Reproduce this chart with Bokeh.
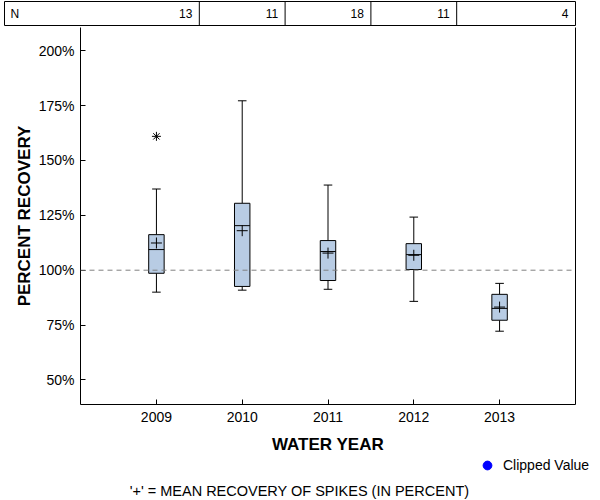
from bokeh.plotting import figure
from bokeh.layouts import column, row
from bokeh.models import (FixedTicker, Span, LinearAxis, Label, Legend, LegendItem,
                          PrintfTickFormatter, Range1d)
from bokeh.embed import file_html
from bokeh.resources import INLINE
from bokeh.core.properties import value

# ---------------- data ----------------
years = [2009, 2010, 2011, 2012, 2013]
year_labels = ["2009", "2010", "2011", "2012", "2013"]
n_counts = [13, 11, 18, 11, 4]
whisker_low = [90.0, 90.9, 91.3, 85.8, 72.2]
q1 = [98.6, 92.6, 95.3, 100.3, 77.2]
median = [109.4, 120.3, 108.5, 107.1, 82.6]
q3 = [116.2, 130.5, 113.5, 112.1, 89.0]
whisker_high = [137.0, 177.2, 138.8, 124.2, 94.0]
means = [112.4, 118.0, 107.8, 106.8, 83.2]
outlier_years = [2009]
outlier_values = [161.0]
clipped_years = []     # no clipped values in this chart
clipped_values = []
y_ticks = [50, 75, 100, 125, 150, 175, 200]
reference_pct = 100

# ---------------- layout / style constants ----------------
FONT = "Liberation Sans"
X0, X1 = 2008.115, 2013.885
Y0, Y1 = 38.8, 210.6
BOX_W = 0.18
CAP_W = 0.10
FRAME_L, FRAME_R = 80, 25
BOX_FILL = "#B8CCE4"

# ---------------- main plot ----------------
p = figure(width=600, height=430, x_range=Range1d(X0, X1), y_range=Range1d(Y0, Y1),
           output_backend="svg", toolbar_location=None,
           min_border_left=FRAME_L, min_border_right=FRAME_R,
           min_border_top=1, min_border_bottom=50)
p.xgrid.visible = False
p.ygrid.visible = False
p.outline_line_color = None
p.background_fill_color = "white"
p.border_fill_color = "white"

p.add_layout(Span(location=reference_pct, dimension="width", line_color="#808080",
                  line_width=1, line_dash="5 4"))

lo_edge = [x - BOX_W / 2 for x in years]
hi_edge = [x + BOX_W / 2 for x in years]
cap_l = [x - CAP_W / 2 for x in years]
cap_r = [x + CAP_W / 2 for x in years]

p.segment(x0=years, y0=q3, x1=years, y1=whisker_high, line_color="black", line_width=1)
p.segment(x0=years, y0=whisker_low, x1=years, y1=q1, line_color="black", line_width=1)
p.segment(x0=cap_l, y0=whisker_high, x1=cap_r, y1=whisker_high, line_color="black", line_width=1)
p.segment(x0=cap_l, y0=whisker_low, x1=cap_r, y1=whisker_low, line_color="black", line_width=1)
p.vbar(x=years, width=BOX_W, bottom=q1, top=q3, fill_color=BOX_FILL,
       line_color="black", line_width=1)
p.segment(x0=lo_edge, y0=median, x1=hi_edge, y1=median, line_color="black", line_width=1)
p.scatter(x=years, y=means, marker="cross", size=11, line_color="black", line_width=1)
p.scatter(x=outlier_years, y=outlier_values, marker="asterisk", size=9,
          line_color="black", line_width=1)

ya = p.yaxis[0]
ya.ticker = FixedTicker(ticks=y_ticks)
ya.formatter = PrintfTickFormatter(format="%d%%")
ya.major_tick_in = 5
ya.major_tick_out = 0
ya.minor_tick_in = 0
ya.minor_tick_out = 0
ya.major_label_standoff = 6
ya.major_label_text_font = FONT
ya.major_label_text_font_size = "14px"
ya.major_label_text_color = "black"
ya.axis_label = "PERCENT RECOVERY"
ya.axis_label_text_font = FONT
ya.axis_label_text_font_size = "17px"
ya.axis_label_text_font_style = "bold"
ya.axis_label_text_color = "black"
ya.axis_label_standoff = 2
ya.axis_line_color = "black"

xa = p.xaxis[0]
xa.ticker = FixedTicker(ticks=years)
xa.major_label_overrides = {y: lab for y, lab in zip(years, year_labels)}
xa.major_tick_in = 5
xa.major_tick_out = 0
xa.minor_tick_in = 0
xa.minor_tick_out = 0
xa.major_label_standoff = 7
xa.major_label_text_font = FONT
xa.major_label_text_font_size = "14px"
xa.major_label_text_color = "black"
xa.axis_label = "WATER YEAR"
xa.axis_label_text_font = FONT
xa.axis_label_text_font_size = "17px"
xa.axis_label_text_font_style = "bold"
xa.axis_label_text_color = "black"
xa.axis_label_standoff = 10
xa.axis_line_color = "black"

ra = LinearAxis(ticker=FixedTicker(ticks=[]), major_tick_in=0, major_tick_out=0,
                minor_tick_in=0, minor_tick_out=0, axis_line_color="black")
p.add_layout(ra, "right")

# ---------------- N table above ----------------
px_per_unit = (600 - FRAME_L - FRAME_R) / (X1 - X0)
T0 = X0 - (FRAME_L - 4) / px_per_unit
top = figure(width=600, height=26, x_range=Range1d(T0, X1), y_range=Range1d(0, 1),
             output_backend="svg", toolbar_location=None,
             x_axis_location=None, y_axis_location=None,
             min_border_left=4, min_border_right=FRAME_R, min_border_top=1, min_border_bottom=1)
top.xgrid.visible = False
top.ygrid.visible = False
top.outline_line_color = "black"
top.outline_line_width = 1
divs = [y + 0.5 for y in years[:-1]]
top.segment(x0=divs, y0=[0] * len(divs), x1=divs, y1=[1] * len(divs), line_color="black", line_width=1)
cell_right = divs + [X1]
top.text(x=cell_right, y=[0.5] * len(years), text=[str(n) for n in n_counts],
         text_align="right", text_baseline="middle", x_offset=-7,
         text_font=value(FONT), text_font_size="12px", text_color="black")
top.text(x=[T0], y=[0.5], text=["N"], text_align="left", text_baseline="middle", x_offset=6,
         text_font=value(FONT), text_font_size="12px", text_color="black")

# ---------------- bottom legend + footnote ----------------
bot = figure(width=600, height=44, x_range=Range1d(0, 600), y_range=Range1d(0, 44),
             output_backend="svg", toolbar_location=None,
             x_axis_location=None, y_axis_location=None,
             min_border_left=0, min_border_right=0, min_border_top=0, min_border_bottom=0)
bot.xgrid.visible = False
bot.ygrid.visible = False
bot.outline_line_color = None
# clipped values would be drawn here; a NaN placeholder lets the legend show its swatch
nan = float("nan")
clip_x = clipped_years if clipped_years else [nan]
clip_y = clipped_values if clipped_values else [nan]
clipped = bot.scatter(x=clip_x, y=clip_y, marker="circle", size=9,
                      fill_color="blue", line_color="blue")
legend = Legend(items=[LegendItem(label="Clipped Value", renderers=[clipped])],
                location=(476, 24), padding=0, margin=0, border_line_color=None,
                background_fill_alpha=0, glyph_width=22, glyph_height=22, label_standoff=5,
                label_text_font=FONT, label_text_font_size="14px", label_text_color="black",
                label_height=22)
bot.add_layout(legend)
bot.add_layout(Label(x=299, y=10, x_units="screen", y_units="screen",
                     text="'+' = MEAN RECOVERY OF SPIKES (IN PERCENT)",
                     text_align="center", text_baseline="middle",
                     text_font=FONT, text_font_size="14.5px", text_color="black"))

layout = column(row(top), row(p), row(bot), spacing=0)
open("out.html", "w").write(file_html(layout, INLINE))
